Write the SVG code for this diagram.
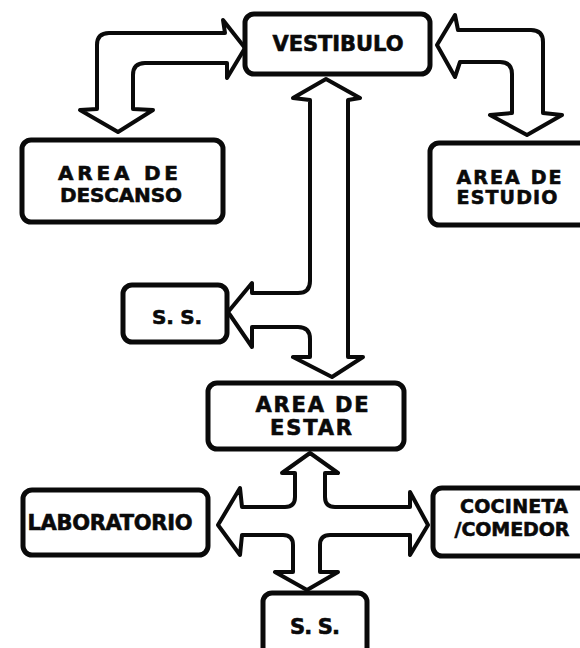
<svg xmlns="http://www.w3.org/2000/svg" width="580" height="648" viewBox="0 0 580 648">
<style>
.box{fill:#fff;stroke:#0a0a0a;stroke-width:5;stroke-linejoin:round}
.con{fill:#fff;stroke:#0a0a0a;stroke-width:4;stroke-linejoin:round;stroke-linecap:round}
.t{font-family:"DejaVu Sans","Liberation Sans",Arial,sans-serif;font-weight:bold;fill:#0a0a0a;stroke:#0a0a0a;stroke-width:0.6;text-anchor:middle}
</style>
<rect width="580" height="648" fill="#fff"/>
<g id="connectors">
<path class="con" d="M118,132 L80,110 L97,109 L97,45 Q97,33 109,33 L225,33 L223,20 L245,48 L227,78 L227,63 L145,63 Q133,63 133,75 L133,109 L153,110 Z"/>
<path class="con" d="M437,45 L455,15 L458,30 L531,30 Q543,30 543,42 L543,113 L562,115 L527,135 L490,115 L512,113 L512,74 Q512,62 500,62 L460,62 L455,77 Z"/>
<path class="con" d="M326,79 L360,98 L348,100 L348,357 L363,357 L332,377 L293,357 L310,357 L310,339 Q310,327 298,327 L252,327 L252,347 L228,312 L252,283 L252,293 L298,293 Q310,293 310,281 L310,100 L293,98 Z"/>
<path class="con" d="M310,453 L338,473 L325,473 L325,497 Q325,507 335,507 L410,507 L410,492 L428,525 L410,555 L410,535 L330,535 Q320,535 320,545 L320,572 L338,572 L307,590 L275,572 L293,572 L293,545 Q293,535 283,535 L242,535 L240,555 L218,525 L240,488 L242,507 L285,507 Q295,507 295,497 L295,473 L282,473 Z"/>
</g>
<g id="vestibulo">
<rect class="box" x="245" y="14" width="185" height="60" rx="9"/>
<text class="t" x="338" y="51" font-size="21" textLength="131" lengthAdjust="spacing">VESTIBULO</text>
</g>
<g id="area-descanso">
<rect class="box" x="22" y="140" width="201" height="82" rx="9"/>
<text class="t" x="118" y="180" font-size="20" textLength="120" lengthAdjust="spacing">AREA DE</text>
<text class="t" x="121" y="202" font-size="20" textLength="122" lengthAdjust="spacing">DESCANSO</text>
</g>
<g id="area-estudio">
<rect class="box" x="430" y="143" width="170" height="82" rx="9"/>
<text class="t" x="509" y="184" font-size="19" textLength="105" lengthAdjust="spacing">AREA DE</text>
<text class="t" x="507" y="204" font-size="19" textLength="101" lengthAdjust="spacing">ESTUDIO</text>
</g>
<g id="ss-upper">
<rect class="box" x="123" y="285" width="104" height="57" rx="9"/>
<text class="t" x="177" y="324" font-size="20" textLength="50" lengthAdjust="spacing">S. S.</text>
</g>
<g id="area-estar">
<rect class="box" x="208" y="383" width="196" height="66" rx="9"/>
<text class="t" x="312" y="412" font-size="21" textLength="113" lengthAdjust="spacing">AREA DE</text>
<text class="t" x="311" y="435" font-size="21" textLength="82" lengthAdjust="spacing">ESTAR</text>
</g>
<g id="laboratorio">
<rect class="box" x="23" y="490" width="185" height="65" rx="9"/>
<text class="t" x="110" y="530" font-size="21" textLength="165" lengthAdjust="spacing">LABORATORIO</text>
</g>
<g id="cocineta-comedor">
<rect class="box" x="433" y="488" width="170" height="68" rx="9"/>
<text class="t" x="514" y="513" font-size="19" textLength="108" lengthAdjust="spacing">COCINETA</text>
<text class="t" x="512" y="536" font-size="19" textLength="115" lengthAdjust="spacing">/COMEDOR</text>
</g>
<g id="ss-lower">
<rect class="box" x="263" y="593" width="104" height="70" rx="9"/>
<text class="t" x="315" y="634" font-size="21" textLength="50" lengthAdjust="spacing">S. S.</text>
</g>
</svg>
